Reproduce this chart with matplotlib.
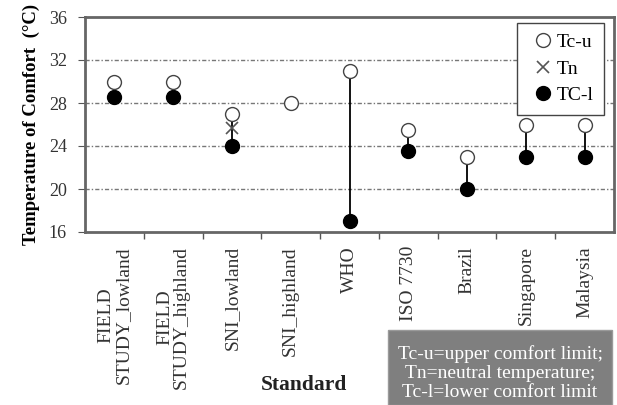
import numpy as np
import matplotlib.pyplot as plt
from matplotlib.patches import Rectangle

plt.rcParams['font.family'] = ['Liberation Serif', 'DejaVu Serif']

standards = ["FIELD\nSTUDY_lowland", "FIELD\nSTUDY_highland", "SNI_lowland",
             "SNI_highland", "WHO", "ISO 7730", "Brazil", "Singapore", "Malaysia"]
tc_upper = [30, 30, 27, 28, 31, 25.5, 23, 26, 26]
tn = [np.nan, np.nan, 25.7, np.nan, np.nan, np.nan, np.nan, np.nan, np.nan]
tc_lower = [28.6, 28.6, 24, np.nan, 17, 23.5, 20, 23, 23]

W, H = 617, 405
fig = plt.figure(figsize=(W / 100, H / 100), dpi=100)
ax = fig.add_axes([85 / W, 1 - 232 / H, 529 / W, 215 / H])

x = np.arange(len(standards))

# high-low lines between the lower and upper comfort limits
for xi, lo, hi in zip(x, tc_lower, tc_upper):
    if not np.isnan(lo):
        ax.plot([xi, xi], [lo, hi], c='k', lw=1.3, zorder=2)

ax.plot(x, tc_lower, 'o', ms=10, mfc='k', mec='k', ls='none', zorder=3, label="TC-l")
ax.plot(x, tn, 'x', ms=8, mew=1.2, c='#555555', ls='none', zorder=4, label="Tn")
ax.plot(x, tc_upper, 'o', ms=10, mfc='white', mec='#444444', mew=1, ls='none', zorder=5,
        label="Tc-u")

ax.set_xlim(-0.5, len(standards) - 0.5)
ax.set_ylim(16, 36)
ax.set_yticks([16, 20, 24, 28, 32, 36])
ax.set_xticks(x)
ax.set_xticklabels(standards, rotation=90, fontsize=14, ha='center', va='top',
                   multialignment='center', linespacing=1.0)
ax.set_xticks(x[:-1] + 0.5, minor=True)
ax.tick_params(axis='x', which='major', length=0, pad=10)
ax.tick_params(axis='x', which='minor', length=5, direction='out', width=1, color='#555555')
ax.tick_params(axis='y', labelsize=13, length=5, direction='out', color='#555555',
               labelcolor='#333333', pad=8)
for t in ax.get_xticklabels():
    t.set_color('#333333')

for y in [20, 24, 28, 32]:
    ax.axhline(y, color='#777777', lw=1, ls=(0, (3, 1.5, 1, 1.5)), zorder=1)

for s in ax.spines.values():
    s.set_color('#666666')
    s.set_linewidth(2)

ax.set_ylabel("Temperature of Comfort  (°C)", fontsize=13.5, fontweight='bold', labelpad=6)

h, l = ax.get_legend_handles_labels()
order = [2, 1, 0]
leg = ax.legend([h[i] for i in order], [l[i] for i in order], loc='upper right',
                fontsize=14, frameon=True, fancybox=False, edgecolor='#444444',
                handlelength=1.6, handletextpad=-0.1, borderpad=0.55, labelspacing=0.45,
                bbox_to_anchor=((604 - 85) / 529, (232 - 23) / 215), borderaxespad=0,
                framealpha=1)
leg.get_frame().set_linewidth(1)

fig.text(304 / W, 1 - 385 / H, "Standard", fontsize=15.5, fontweight='bold',
         ha='center', va='center', color='#222222')

# grey note box in the lower right corner
fig.patches.append(Rectangle((388 / W, 0), 224 / W, 75 / H, transform=fig.transFigure,
                             fc='#7f7f7f', ec='#9a9a9a', lw=1))
fig.text(500 / W, 1 - 373 / H,
         "Tc-u=upper comfort limit;\nTn=neutral temperature;\nTc-l=lower comfort limit",
         fontsize=14, color='white', ha='center', va='center', linespacing=1.15)

fig.savefig("out.png", dpi=100)
